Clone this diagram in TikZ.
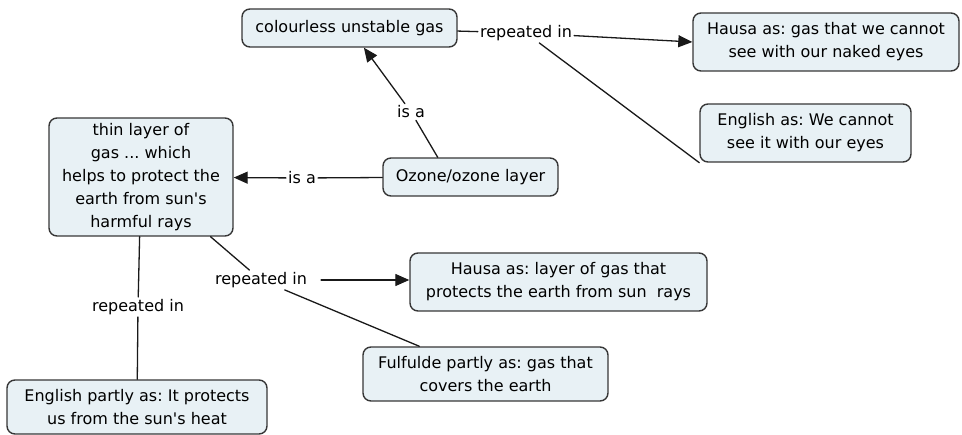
\documentclass[tikz,border=0pt]{standalone}
\usepackage{fontspec}
\setmainfont{DejaVu Sans}
\usepackage{tikz}
\usetikzlibrary{arrows.meta}
\usepackage{xcolor}
\definecolor{boxfill}{RGB}{232,241,245}
\definecolor{boxline}{RGB}{55,55,55}
\frenchspacing

\begin{document}
\begin{tikzpicture}[x=1pt,y=-1pt,>={Triangle[length=14pt,width=12pt]},
  font=\fontsize{16}{23}\selectfont,line cap=round,
  concept/.style={draw=boxline,fill=boxfill,line width=1.4pt,rounded corners=8pt,
    align=center,inner sep=0pt},
  linkword/.style={inner sep=2pt},
  link/.style={line width=1.3pt,black!90}]
\useasboundingbox (0,0) rectangle (962,435);
% concepts
\node[concept,minimum width=215pt,minimum height=38pt] (gas) at (349.5,28) {colourless unstable gas};
\node[concept,minimum width=266pt,minimum height=58pt] (hausaTop) at (826,42) {Hausa as: gas that we cannot\\see with our naked eyes};
\node[concept,minimum width=211pt,minimum height=58pt] (engTop) at (805.5,133) {English as: We cannot\\see it with our eyes};
\node[concept,minimum width=184pt,minimum height=118pt] (thin) at (141,177) {thin layer of\\gas ... which\\helps to protect the\\earth from sun\textquotesingle s\\harmful rays};
\node[concept,minimum width=175pt,minimum height=38pt] (ozone) at (470.5,177) {Ozone/ozone layer};
\node[concept,minimum width=297pt,minimum height=58pt] (hausaBot) at (558.5,282) {Hausa as: layer of gas that\\protects the earth from sun\ \ rays};
\node[concept,minimum width=245pt,minimum height=54pt] (fulfulde) at (485.5,374) {Fulfulde partly as: gas that\\covers the earth};
\node[concept,minimum width=260pt,minimum height=54pt] (engBot) at (137,407) {English partly as: It protects\\us from the sun\textquotesingle s heat};
% linking words
\node[linkword] (rep1) at (526,33) {repeated in};
\node[linkword] (isa1) at (411,112) {is a};
\node[linkword] (isa2) at (302,178) {is a};
\node[linkword] (rep2) at (261,280) {repeated in};
\node[linkword] (rep3) at (138,307) {repeated in};
% connectors
\draw[link] (gas) -- (rep1);
\draw[link,->] (rep1) -- (hausaTop.west);
\draw[link] (rep1) -- (engTop.south west);
\draw[link] (ozone.149) -- (isa1);
\draw[link,->] (isa1) -- (gas);
\draw[link] (ozone) -- (isa2);
\draw[link,->] (isa2) -- (thin);
\draw[link] (thin) -- (rep2);
\draw[link,->] ([xshift=12pt]rep2.east) -- (hausaBot.west |- rep2.east);
\draw[link] (rep2) -- (fulfulde);
\draw[link] (thin) -- (rep3);
\draw[link] (rep3) -- (engBot);
\end{tikzpicture}
\end{document}
